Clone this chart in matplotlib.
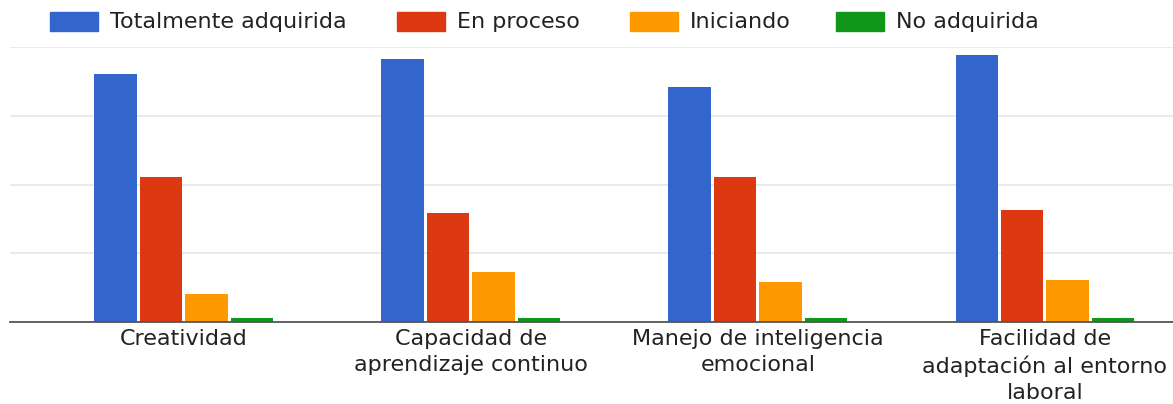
import numpy as np
import matplotlib.pyplot as plt
from matplotlib.patches import Rectangle

plt.rcParams['font.family'] = ['DejaVu Sans']

categories = ['Creatividad', 'Capacidad de\naprendizaje continuo',
              'Manejo de inteligencia\nemocional',
              'Facilidad de\nadaptación al entorno\nlaboral']
series = ['Totalmente adquirida', 'En proceso', 'Iniciando', 'No adquirida']
totalmente = [36.1, 38.3, 34.2, 38.8]
en_proceso = [21.1, 15.9, 21.1, 16.3]
iniciando = [4.1, 7.3, 5.8, 6.1]
no_adquirida = [0.6, 0.6, 0.6, 0.6]
colors = ['#3366cc', '#dc3912', '#ff9900', '#109618']

W, H = 1173, 404
fig = plt.figure(figsize=(W / 100, H / 100), dpi=100)
ax = fig.add_axes([10 / W, 1 - 322 / H, 1163 / W, 275 / H])

x = np.arange(len(categories))
step = 0.1585
w = 0.148
for i, vals in enumerate([totalmente, en_proceso, iniciando, no_adquirida]):
    ax.bar(x + (i - 1.5) * step, vals, w, color=colors[i], zorder=2)

ax.set_xlim(-0.606, 3.446)
ax.set_ylim(0, 40)
ax.set_yticks([0, 10, 20, 30, 40])
ax.yaxis.grid(True, color='#e6e6e6', linewidth=1.2, zorder=0)
ax.tick_params(axis='y', left=False, labelleft=False)
ax.tick_params(axis='x', bottom=False, labelsize=16, labelcolor='#222222', pad=1.5)
ax.set_xticks(x)
ax.set_xticklabels(categories, linespacing=1.38)
for s in ['top', 'right', 'left']:
    ax.spines[s].set_visible(False)
ax.spines['bottom'].set_color('#555555')
ax.spines['bottom'].set_linewidth(1.3)

# legend drawn by hand to hit the reference positions
sw_x = [50, 397, 630, 836]
for sx, c, lab in zip(sw_x, colors, series):
    fig.patches.append(Rectangle((sx / W, 1 - 31 / H), 48 / W, 19 / H,
                                 transform=fig.transFigure, color=c))
    fig.text((sx + 60) / W, 1 - 21.5 / H, lab, fontsize=16, color='#222222',
             va='center', ha='left')

fig.savefig('out.png', dpi=100)
